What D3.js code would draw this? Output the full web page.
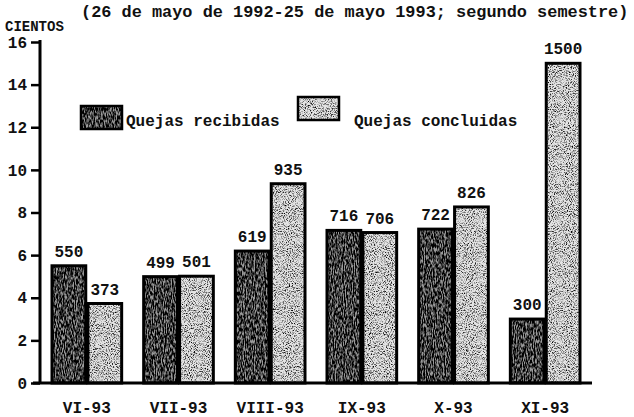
<!DOCTYPE html>
<html><head><meta charset="utf-8">
<script src="https://cdn.jsdelivr.net/npm/d3@7"></script>
<style>
body{margin:0;background:#fff;}
text{font-family:"Liberation Mono","DejaVu Sans Mono",monospace;font-weight:bold;fill:#111;}
</style></head>
<body><svg id="c" width="634" height="417"></svg>
<script>
const months = ["VI-93","VII-93","VIII-93","IX-93","X-93","XI-93"];
const recibidas = [550,499,619,716,722,300];
const concluidas = [373,501,935,706,826,1500];
const yTicks = [0,2,4,6,8,10,12,14,16];
const seriesNames = ["Quejas recibidas","Quejas concluidas"];
const title = "(26 de mayo de 1992-25 de mayo 1993; segundo semestre)";
const yUnit = "CIENTOS";

const svg = d3.select("#c");
const defs = svg.append("defs");
function speckle(id, seed, freq, slope, intercept){
  const f = defs.append("filter").attr("id",id).attr("x",0).attr("y",0).attr("width","100%").attr("height","100%");
  f.append("feTurbulence").attr("type","fractalNoise").attr("baseFrequency",freq).attr("numOctaves",2).attr("seed",seed).attr("result","n");
  f.append("feColorMatrix").attr("in","n").attr("type","matrix")
   .attr("values",`0 0 0 0 0  0 0 0 0 0  0 0 0 0 0  ${slope} 0 0 0 ${intercept}`).attr("result","a");
  f.append("feComposite").attr("in","a").attr("in2","SourceGraphic").attr("operator","in");
}
speckle("spkDark", 3, "0.9 0.25", 3.2, -1.0);
speckle("spkLight", 7, "0.95", 3.0, -1.4);

const y = d3.scaleLinear().domain([0,16]).range([383,42]);
const x0 = d3.scaleBand().domain(months).range([41,591]).paddingInner(0.24).paddingOuter(0.12);
const x1 = d3.scaleBand().domain([0,1]).range([0,x0.bandwidth()]).paddingInner(0.06);
const fills = ["#9a9a9a","#e4e4e4"];
const filt = ["url(#spkDark)","url(#spkLight)"];

const data = months.map((m,i)=>({m, vals:[recibidas[i],concluidas[i]]}));
const g = svg.append("g");
data.forEach(d=>{
  d.vals.forEach((v,k)=>{
    const bx = x0(d.m)+x1(k), bw = x1.bandwidth(), by = y(v/100);
    g.append("rect").attr("x",bx).attr("y",by).attr("width",bw).attr("height",y(0)-by).attr("fill",fills[k]);
    g.append("rect").attr("x",bx).attr("y",by).attr("width",bw).attr("height",y(0)-by).attr("fill","#000").attr("filter",filt[k]);
    g.append("rect").attr("x",bx).attr("y",by).attr("width",bw).attr("height",y(0)-by)
      .attr("fill","none").attr("stroke","#000").attr("stroke-width",3);
    g.append("text").attr("x",bx+bw/2).attr("y",by-9).attr("text-anchor","middle").attr("font-size",16).text(v);
  });
});

// y axis
const ax = svg.append("g").attr("transform","translate(40,0)");
ax.call(d3.axisLeft(y).tickValues(yTicks).tickSize(9).tickPadding(4).tickFormat(d3.format("d")));
ax.select(".domain").remove();
ax.append("line").attr("x1",0).attr("x2",0).attr("y1",40).attr("y2",y(0)).attr("stroke","#000").attr("stroke-width",3);
ax.selectAll(".tick line").attr("stroke","#000").attr("stroke-width",2.5);
ax.selectAll(".tick text").attr("font-size",16).attr("fill","#111").attr("font-family","Liberation Mono").attr("font-weight","bold");

// baseline
svg.append("line").attr("x1",33).attr("x2",592).attr("y1",y(0)).attr("y2",y(0)).attr("stroke","#000").attr("stroke-width",3);

// x labels
svg.append("g").selectAll("text").data(months).join("text")
  .attr("x",d=>x0(d)+x0.bandwidth()/2).attr("y",413).attr("text-anchor","middle").attr("font-size",16).text(d=>d);

// titles
svg.append("text").attr("x",81).attr("y",17).attr("font-size",16.9).text(title);
svg.append("text").attr("x",5).attr("y",31).attr("font-size",14).text(yUnit);

// legend
const leg = [{x:81,y:106,tx:126,ty:126},{x:298,y:97,tx:354,ty:126}];
leg.forEach((l,k)=>{
  svg.append("rect").attr("x",l.x).attr("y",l.y).attr("width",41).attr("height",23).attr("fill",fills[k]);
  svg.append("rect").attr("x",l.x).attr("y",l.y).attr("width",41).attr("height",23).attr("fill","#000").attr("filter",filt[k]);
  svg.append("rect").attr("x",l.x).attr("y",l.y).attr("width",41).attr("height",23).attr("fill","none").attr("stroke","#000").attr("stroke-width",2.5);
  svg.append("text").attr("x",l.tx).attr("y",l.ty).attr("font-size",16).text(seriesNames[k]);
});
</script></body></html>
